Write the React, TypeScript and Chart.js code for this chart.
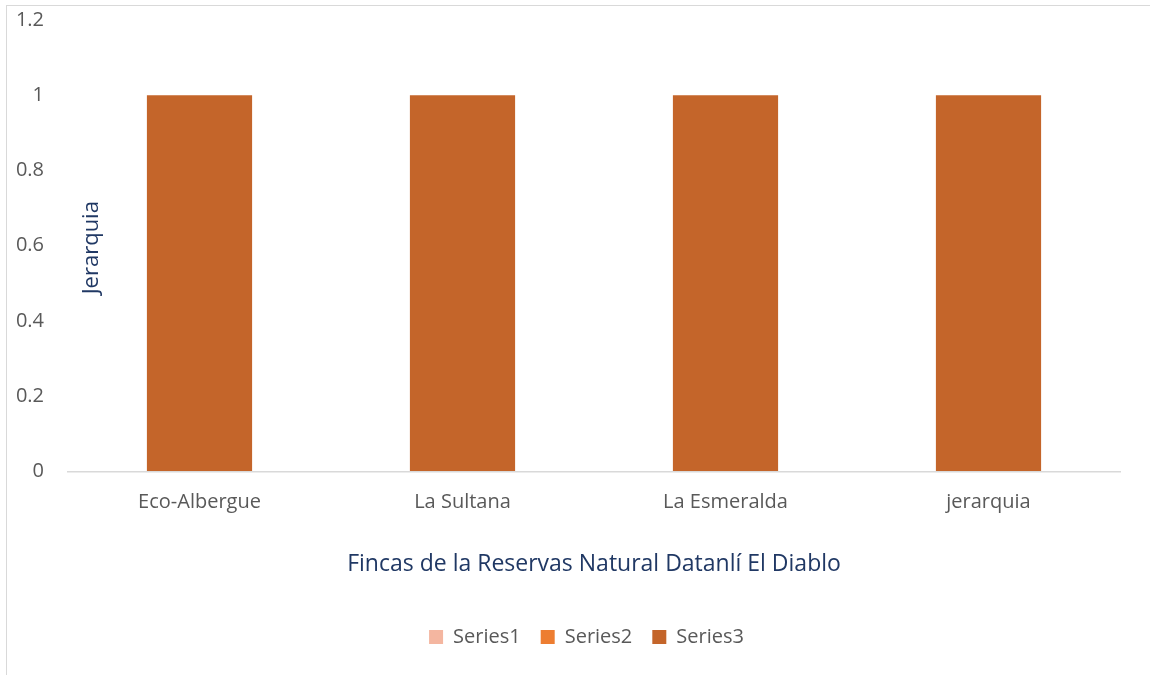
import React, { useEffect, useRef } from "react";
import { Chart, registerables } from "chart.js";

Chart.register(...registerables);

const categories = ["Eco-Albergue", "La Sultana", "La Esmeralda", "jerarquia"];
const series1 = [0, 0, 0, 0];
const series2 = [0, 0, 0, 0];
const series3 = [1, 1, 1, 1];
const seriesNames = ["Series1", "Series2", "Series3"];
const yTitle = "Jerarquia";
const xTitle = "Fincas de la Reservas Natural Datanlí El Diablo";

const FONT = "'Open Sans', sans-serif";

const yTitlePlugin = {
  id: "yTitleInside",
  afterDraw(chart: any) {
    const { ctx, chartArea } = chart;
    ctx.save();
    ctx.translate(chartArea.left + 24, (chartArea.top + chartArea.bottom) / 2 + 2);
    ctx.rotate(-Math.PI / 2);
    ctx.fillStyle = "#203864";
    ctx.font = `22px ${FONT}`;
    ctx.textAlign = "center";
    ctx.textBaseline = "middle";
    ctx.fillText(yTitle, 0, 0);
    ctx.restore();
  },
};

export default function App() {
  const ref = useRef<HTMLCanvasElement>(null);
  useEffect(() => {
    if (!ref.current) return;
    const chart = new Chart(ref.current, {
      type: "bar",
      data: {
        labels: categories,
        datasets: [
          { label: seriesNames[0], data: series1, backgroundColor: "#f4b6a0" },
          { label: seriesNames[1], data: series2, backgroundColor: "#ed7d31" },
          { label: seriesNames[2], data: series3, backgroundColor: "#c4652a" },
        ],
      },
      options: {
        animation: false,
        responsive: false,
        maintainAspectRatio: false,
        layout: { padding: { left: 8, right: 0, top: 20, bottom: 18 } },
        datasets: { bar: { barPercentage: 0.4, categoryPercentage: 1 } },
        scales: {
          x: {
            stacked: true,
            grid: { display: false, drawTicks: false },
            border: { display: true, color: "#d9d9d9", width: 1.5 },
            ticks: { color: "#595959", font: { family: FONT, size: 20 }, padding: 19 },
            title: {
              display: true,
              text: xTitle,
              color: "#203864",
              font: { family: FONT, size: 23 },
              padding: { top: 17, bottom: 29 },
            },
          },
          y: {
            stacked: true,
            min: 0,
            max: 1.2,
            ticks: {
              stepSize: 0.2,
              color: "#595959",
              font: { family: FONT, size: 20 },
              padding: 0,
              callback: (v: any) => String(Math.round(Number(v) * 10) / 10),
            },
            grid: {
              display: true,
              drawOnChartArea: false,
              drawTicks: true,
              tickLength: 24,
              color: "rgba(0,0,0,0)",
            },
            border: { display: false },
            afterFit: (s: any) => {
              s.width = 60;
            },
          },
          yRight: {
            position: "right",
            display: true,
            ticks: { display: false },
            grid: { display: false, drawTicks: false },
            border: { display: false },
            afterFit: (s: any) => {
              s.width = 45;
            },
          },
        },
        plugins: {
          legend: {
            position: "bottom",
            labels: {
              color: "#595959",
              font: { family: FONT, size: 20 },
              boxWidth: 14,
              boxHeight: 14,
              padding: 20,
            },
          },
          tooltip: { enabled: false },
        },
      },
      plugins: [yTitlePlugin],
    });
    return () => chart.destroy();
  }, []);

  return (
    <div style={{ position: "absolute", left: 0, top: 0, width: 1150, height: 675, overflow: "hidden", background: "#fff" }}>
      <div
        style={{
          position: "absolute",
          left: 6,
          top: 5,
          width: 1170,
          height: 700,
          border: "1.5px solid #d9d9d9",
        }}
      />
      <canvas ref={ref} width={1165} height={675} style={{ position: "absolute", left: 0, top: 0 }} />
    </div>
  );
}
